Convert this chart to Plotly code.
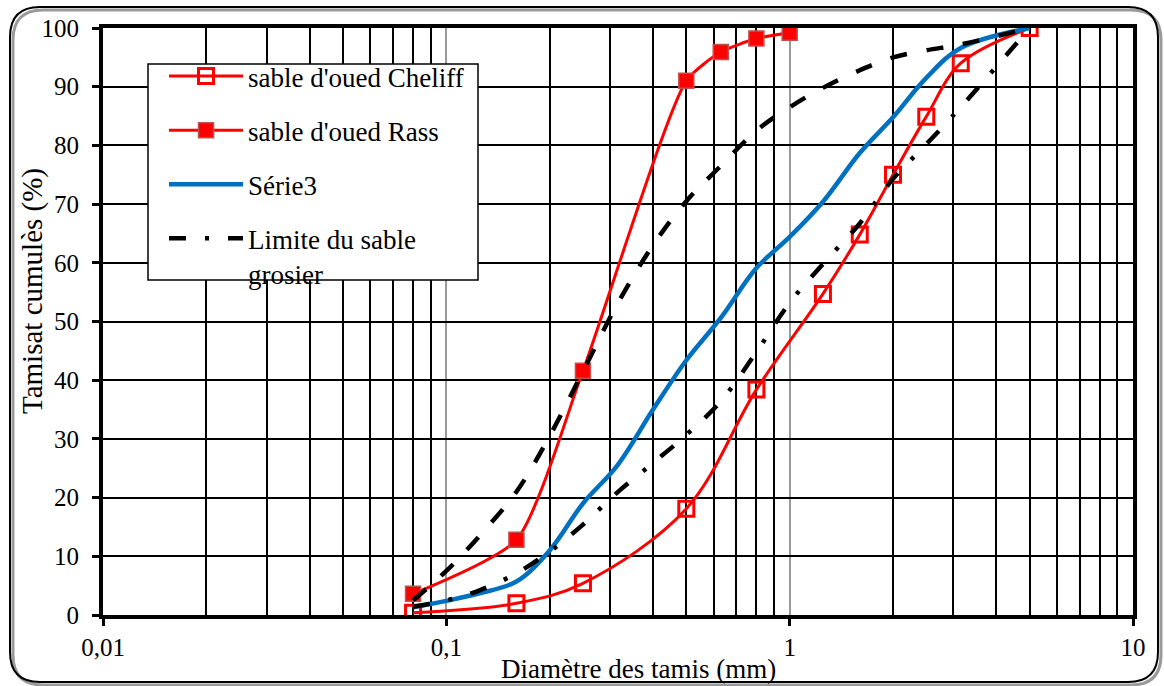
import plotly.graph_objects as go

# ---------------- data ----------------
cheliff_x = [0.08, 0.16, 0.25, 0.5, 0.8, 1.25, 1.6, 2, 2.5, 3.15, 5]
cheliff_y = [0.4, 2.0, 5.4, 18.1, 38.4, 54.7, 64.8, 75.0, 84.9, 94.0, 100]

rass_x = [0.08, 0.16, 0.25, 0.5, 0.63, 0.8, 1]
rass_y = [3.6, 12.8, 41.6, 91.0, 95.9, 98.2, 99.2]

serie3_x = [0.08, 0.1, 0.125, 0.16, 0.2, 0.25, 0.315, 0.4, 0.5, 0.63, 0.8, 1, 1.25, 1.6, 2, 2.5, 3.15, 5]
serie3_y = [1.3, 2.4, 3.7, 5.7, 11, 19, 25.5, 35, 43.4, 50.6, 59.1, 64.4, 70.4, 78.7, 84.8, 91.5, 96.6, 100]

fin_x = [0.08, 0.1, 0.125, 0.16, 0.2, 0.25, 0.315, 0.4, 0.5, 0.63, 0.8, 1, 1.25, 1.6, 2, 2.5, 3.15, 5]
fin_y = [2.5, 7.5, 13.5, 21, 30.5, 41.5, 53, 63, 70.5, 76.5, 82.5, 86.5, 89.8, 92.8, 95, 96.2, 97.2, 100]

gros_x = [0.08, 0.1, 0.125, 0.16, 0.2, 0.25, 0.315, 0.4, 0.5, 0.63, 0.8, 1, 1.25, 1.6, 2, 2.5, 3.15, 5]
gros_y = [1.4, 2.5, 4.2, 7.1, 10.8, 15.4, 20.9, 25.9, 30.7, 36.4, 44.8, 53.2, 59.8, 66.7, 74.3, 80.2, 86.5, 100]

x_tickvals = [0.01, 0.1, 1, 10]
x_ticktext = ["0,01", "0,1", "1", "10"]
y_tickvals = [0, 10, 20, 30, 40, 50, 60, 70, 80, 90, 100]

# ---------------- geometry helpers ----------------
W, H = 1164, 686
L, R, T, B = 103, 31, 28, 71
PW, PH = W - L - R, H - T - B


def px(xp):
    return (xp - L) / PW


def py(yp):
    return (H - B - yp) / PH


FONT = "Liberation Serif"

fig = go.Figure()

fig.add_trace(go.Scatter(
    x=cheliff_x, y=cheliff_y, name="sable d'oued Cheliff", legendgroup="a",
    mode="lines+markers", line=dict(color="#FF0000", width=3, shape="spline", smoothing=1),
    marker=dict(symbol="square-open", size=15, color="#FF0000", line=dict(width=3, color="#FF0000"))))

fig.add_trace(go.Scatter(
    x=rass_x, y=rass_y, name="sable d'oued Rass", legendgroup="b",
    mode="lines+markers", line=dict(color="#FF0000", width=3, shape="spline", smoothing=0.6),
    marker=dict(symbol="square", size=15, color="#FF0000", line=dict(width=1.5, color="#C0504D"))))

fig.add_trace(go.Scatter(
    x=serie3_x, y=serie3_y, name="Série3", legendgroup="c",
    mode="lines", line=dict(color="#0070C0", width=4.5, shape="spline", smoothing=1)))

fig.add_trace(go.Scatter(
    x=gros_x, y=gros_y, name="Limite du sable<br>grosier", legendgroup="d",
    mode="lines", line=dict(color="black", width=4.5, shape="spline", smoothing=1,
                            dash="17px,19px,4px,19px")))

fig.add_trace(go.Scatter(
    x=fin_x, y=fin_y, name="Limite du sable fin", showlegend=False,
    mode="lines", line=dict(color="black", width=4.5, shape="spline", smoothing=1,
                            dash="17px,20px")))

# ---------------- shapes: outer rounded frame & legend box ----------------
def rounded(x0, y0, x1, y1, r):
    # pixel coords (y down) -> paper path
    X = lambda v: f"{px(v):.5f}"
    Y = lambda v: f"{py(v):.5f}"
    return (f"M {X(x0 + r)},{Y(y0)} L {X(x1 - r)},{Y(y0)} Q {X(x1)},{Y(y0)} {X(x1)},{Y(y0 + r)} "
            f"L {X(x1)},{Y(y1 - r)} Q {X(x1)},{Y(y1)} {X(x1 - r)},{Y(y1)} "
            f"L {X(x0 + r)},{Y(y1)} Q {X(x0)},{Y(y1)} {X(x0)},{Y(y1 - r)} "
            f"L {X(x0)},{Y(y0 + r)} Q {X(x0)},{Y(y0)} {X(x0 + r)},{Y(y0)} Z")


shapes = [
    dict(type="path", xref="paper", yref="paper", layer="below",
         path=rounded(13, 10, 1161, 685, 30), line=dict(color="#9a9a9a", width=3)),
    dict(type="path", xref="paper", yref="paper", layer="below",
         path=rounded(10, 7, 1158, 682, 30), line=dict(color="black", width=2)),
    dict(type="rect", xref="paper", yref="paper", layer="above",
         x0=px(148), x1=px(478), y0=py(280), y1=py(64),
         fillcolor="white", line=dict(color="black", width=1.5)),
]

annotations = [
    dict(text="Diamètre des tamis (mm)", xref="paper", yref="paper",
         x=px(638), y=py(669), showarrow=False, font=dict(family=FONT, size=27, color="black"),
         xanchor="center", yanchor="middle"),
    dict(text="Tamisat cumulès (%)", xref="paper", yref="paper", textangle=-90,
         x=px(32), y=py(291), showarrow=False, font=dict(family=FONT, size=29, color="black"),
         xanchor="center", yanchor="middle"),
]

fig.update_layout(
    width=W, height=H,
    margin=dict(l=L, r=R, t=T, b=B),
    paper_bgcolor="white", plot_bgcolor="white",
    font=dict(family=FONT, color="black", size=25),
    shapes=shapes, annotations=annotations,
    showlegend=True,
    legend=dict(x=px(164), y=py(52), xanchor="left", yanchor="top",
                bgcolor="rgba(0,0,0,0)", borderwidth=0,
                font=dict(family=FONT, size=27, color="black"),
                tracegroupgap=16, itemwidth=74, valign="top"),
)

fig.update_xaxes(
    type="log", range=[-2, 1],
    tickmode="array", tickvals=x_tickvals, ticktext=x_ticktext,
    ticks="outside", ticklen=7, tickwidth=3, tickcolor="black",
    showgrid=True, gridcolor="#9a9a9a", gridwidth=1.5,
    minor=dict(dtick="D1", showgrid=True, gridcolor="black", gridwidth=1.5, ticks=""),
    showline=True, linecolor="black", linewidth=4, mirror=True,
    tickfont=dict(family=FONT, size=25, color="black"),
    zeroline=False,
)

fig.update_yaxes(
    range=[0, 100], tickmode="array", tickvals=y_tickvals,
    ticks="outside", ticklen=7, tickwidth=3, tickcolor="black",
    showgrid=True, gridcolor="black", gridwidth=1.5,
    showline=True, linecolor="black", linewidth=4, mirror=True,
    tickfont=dict(family=FONT, size=25, color="black"),
    ticklabelstandoff=8,
    zeroline=False,
)

fig.write_html("out.html")
